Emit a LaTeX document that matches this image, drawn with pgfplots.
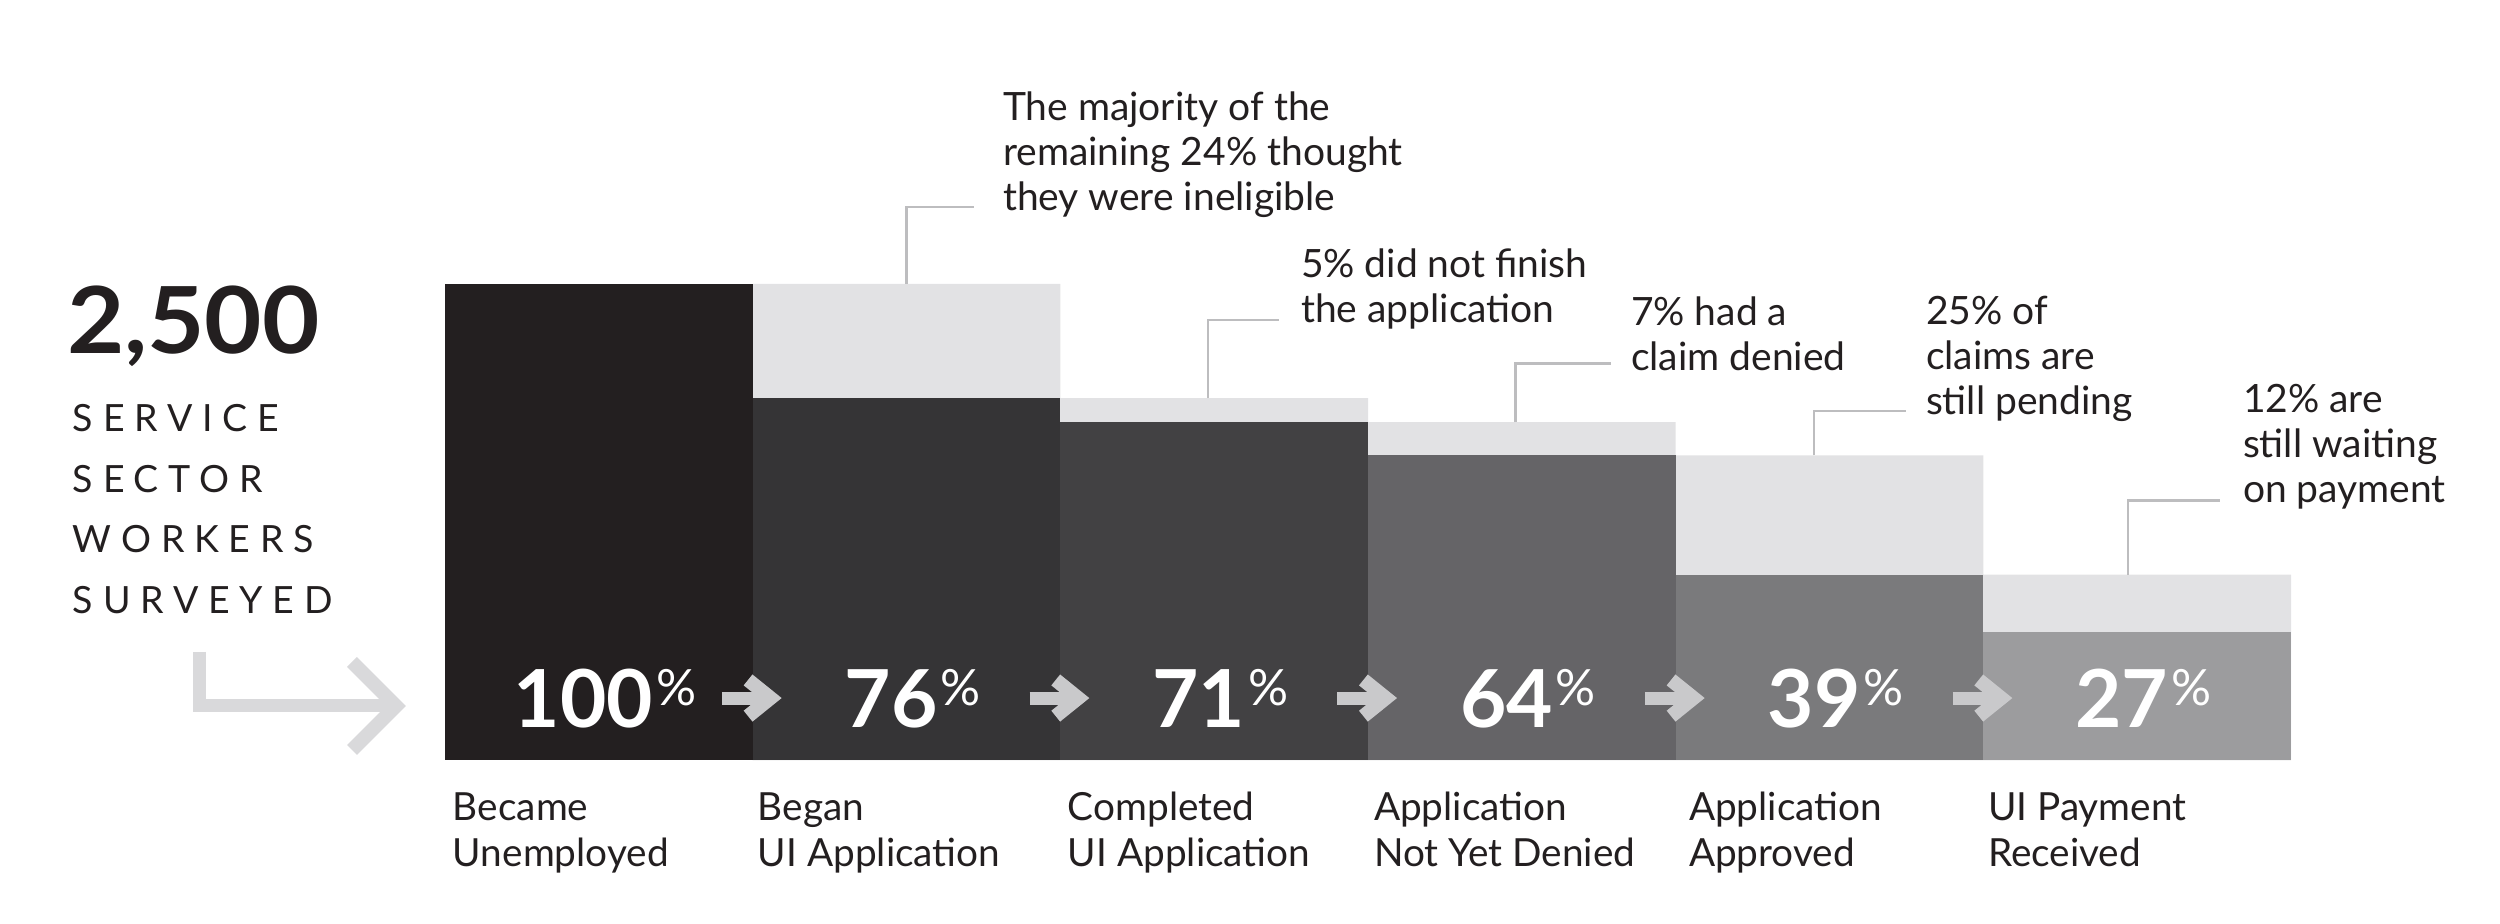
\documentclass[border=0pt]{standalone}
\usepackage{pgfplots}
\pgfplotsset{compat=1.18}
\usepackage{fontspec}
\setmainfont{Lato}
\newfontfamily\trackfont[LetterSpace=26]{Lato}
\definecolor{ink}{HTML}{231F20}
\definecolor{cA}{HTML}{231F20}
\definecolor{cB}{HTML}{353436}
\definecolor{cC}{HTML}{424143}
\definecolor{cD}{HTML}{656467}
\definecolor{cE}{HTML}{7A7A7C}
\definecolor{cF}{HTML}{9C9C9E}
\definecolor{lightg}{HTML}{E2E2E4}
\definecolor{arrowg}{HTML}{C9C9CB}
\definecolor{bigarrow}{HTML}{D9D9DB}
\definecolor{callout}{HTML}{BDBDBF}
\newcommand\pct{\kern0.6pt\raisebox{4.4pt}{\fontsize{10}{10}\selectfont\mdseries\%}}
\begin{document}
\begin{tikzpicture}
\useasboundingbox (0,0) rectangle (500pt,184.6pt);
\begin{scope}[x=0.2pt,y=-0.2pt,shift={(0pt,184.6pt)}]
  % left text
  \node[anchor=base west,inner sep=0,text=ink,font=\fontsize{18.5}{18.5}\selectfont\bfseries] at (66,354) {\scalebox{1.07}[1]{2,500}};
  \node[anchor=base west,inner sep=0,text=ink,font=\trackfont\fontsize{7.5}{9}\selectfont] at (72,432) {SERVICE};
  \node[anchor=base west,inner sep=0,text=ink,font=\trackfont\fontsize{7.5}{9}\selectfont] at (72,493) {SECTOR};
  \node[anchor=base west,inner sep=0,text=ink,font=\trackfont\fontsize{7.5}{9}\selectfont] at (72,553) {WORKERS};
  \node[anchor=base west,inner sep=0,text=ink,font=\trackfont\fontsize{7.5}{9}\selectfont] at (72,614) {SURVEYED};
  % big L arrow
  \draw[bigarrow,line width=2.6pt] (199,652) -- (199,706) -- (394,706);
  \draw[bigarrow,line width=2.8pt] (352,662) -- (396,706) -- (352,750);
  % annotations
  \begin{scope}[every node/.style={anchor=base west,inner sep=0,text=ink,font=\fontsize{7.8}{9}\selectfont}]
    \node at (1002,121) {The majority of the};
    \node at (1002,166) {remaining 24\% thought};
    \node at (1002,211) {they were ineligible};
    \node at (1300,278) {5\% did not finish};
    \node at (1300,323) {the application};
    \node at (1630,326) {7\% had a};
    \node at (1630,371) {claim denied};
    \node at (1925,325) {25\% of};
    \node at (1925,370) {claims are};
    \node at (1925,415) {still pending};
    \node at (2242,413) {12\% are};
    \node at (2242,458) {still waiting};
    \node at (2242,503) {on payment};
  \end{scope}
  \begin{scope}[every node/.style={anchor=base west,inner sep=0,text=ink,font=\fontsize{7.75}{9}\selectfont}]
    % category labels
    \node at (452,821) {Became};
    \node at (452,867) {Unemployed};
    \node at (757,821) {Began};
    \node at (757,867) {UI Application};
    \node at (1067,821) {Completed};
    \node at (1067,867) {UI Application};
    \node at (1373,821) {Application};
    \node at (1373,867) {Not Yet Denied};
    \node at (1688,821) {Application};
    \node at (1688,867) {Approved};
    \node at (1987,821) {UI Payment};
    \node at (1987,867) {Received};
  \end{scope}
\end{scope}
\begin{axis}[at={(89pt,32.5pt)},anchor=south west,scale only axis,
  width=369.2pt,height=95.34pt,xmin=0,xmax=6,ymin=0,ymax=100,
  hide axis,clip=false]
  % previous-stage level (light grey)
  \addplot[const plot,fill=lightg,draw=none] coordinates {(1,100)(2,76)(3,71)(4,64)(5,39)(6,39)} \closedcycle;
  % current-stage bars
  \addplot[fill=cA,draw=none] coordinates {(0,100)(1,100)} \closedcycle;
  \addplot[fill=cB,draw=none] coordinates {(1,76)(2,76)} \closedcycle;
  \addplot[fill=cC,draw=none] coordinates {(2,71)(3,71)} \closedcycle;
  \addplot[fill=cD,draw=none] coordinates {(3,64)(4,64)} \closedcycle;
  \addplot[fill=cE,draw=none] coordinates {(4,39)(5,39)} \closedcycle;
  \addplot[fill=cF,draw=none] coordinates {(5,27)(6,27)} \closedcycle;
  % callout lines
  \draw[callout,line width=0.5pt] (axis cs:1.50,100) -- (axis cs:1.50,116.1) -- (axis cs:1.72,116.1);
  \draw[callout,line width=0.5pt] (axis cs:2.48,76) -- (axis cs:2.48,92.4) -- (axis cs:2.71,92.4);
  \draw[callout,line width=0.5pt] (axis cs:3.48,71) -- (axis cs:3.48,83.3) -- (axis cs:3.79,83.3);
  \draw[callout,line width=0.5pt] (axis cs:4.45,64) -- (axis cs:4.45,73.3) -- (axis cs:4.75,73.3);
  \draw[callout,line width=0.5pt] (axis cs:5.47,39) -- (axis cs:5.47,54.5) -- (axis cs:5.77,54.5);
  % percentages
  \begin{scope}[every node/.style={anchor=base,inner sep=0,text=white,font=\fontsize{16}{16}\selectfont\bfseries}]
    \node at (axis cs:0.52,7) {100\pct};
    \node at (axis cs:1.52,7) {76\pct};
    \node at (axis cs:2.52,7) {71\pct};
    \node at (axis cs:3.52,7) {64\pct};
    \node at (axis cs:4.52,7) {39\pct};
    \node at (axis cs:5.52,7) {27\pct};
  \end{scope}
  % small step arrows
  \pgfplotsinvokeforeach{1,2,3,4,5}{
    \draw[arrowg,line width=2.6pt] (axis cs:#1-0.10,13.1) -- (axis cs:#1+0.05,13.1);
    \draw[arrowg,line width=2.8pt] (axis cs:#1-0.015,16.9) -- (axis cs:#1+0.058,13.1) -- (axis cs:#1-0.015,9.3);
  }
\end{axis}
\end{tikzpicture}
\end{document}
